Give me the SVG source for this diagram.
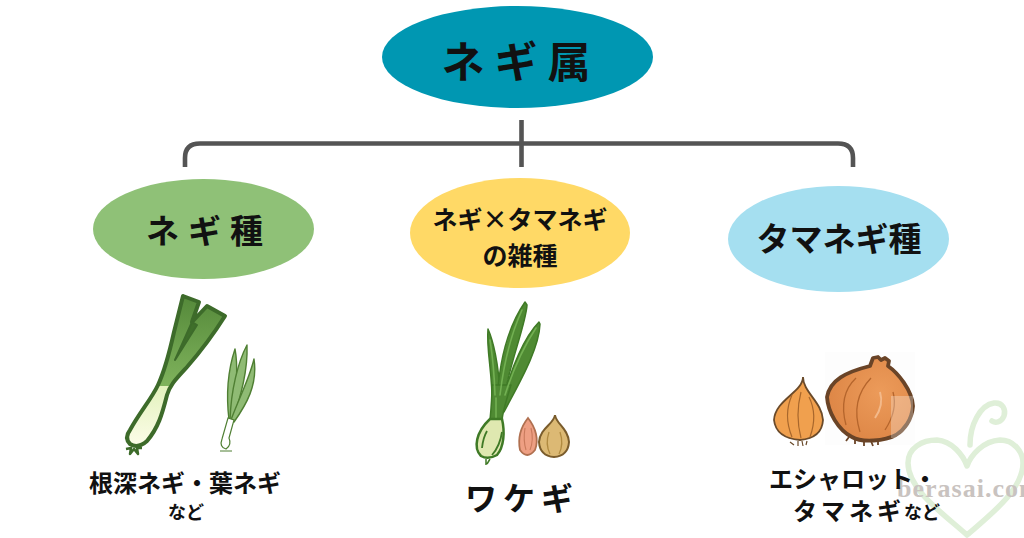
<svg xmlns="http://www.w3.org/2000/svg" width="1024" height="538" viewBox="0 0 1024 538">
<style>
text{font-family:"Noto Sans CJK JP","Noto Sans",sans-serif;fill:#111;font-weight:700;text-anchor:middle}
.c{fill:none;stroke:#545454;stroke-width:4.6}
.lf{fill:#4f8a33;stroke:#3f7a26;stroke-width:1.500;stroke-linejoin:round}
.in{fill:none;stroke:#72b052;stroke-width:1.600;stroke-linecap:round}
.sl{fill:#8fbb74;stroke:#4f7f33;stroke-width:1.400;stroke-linejoin:round}
.wm{fill:none;stroke:#dfefd8;stroke-width:5.500;stroke-linecap:round;stroke-linejoin:round}
</style>
<defs>
<linearGradient id="leek" x1="0" y1="0" x2="0" y2="1"><stop offset="0" stop-color="#55893a"/><stop offset=".6" stop-color="#7fb35c"/><stop offset=".6" stop-color="#e3f2bd"/><stop offset="1" stop-color="#fcfde8"/></linearGradient>
<radialGradient id="onA" cx=".62" cy=".42" r=".7"><stop offset="0" stop-color="#ec9b5a"/><stop offset="1" stop-color="#dc8444"/></radialGradient>
</defs>
<rect width="1024" height="538" fill="#fff"/>
<g id="connectors">
<path class="c" d="M185 167V158Q185 143.500 200 143.500H838Q853 143.500 853 158V167"/>
<path class="c" d="M521.500 120V167"/>
</g>
<g id="node-root"><ellipse cx="517.500" cy="57" rx="135.500" ry="51" fill="#0097b2"/><text x="521" y="78" font-size="43" letter-spacing="10">ネギ属</text></g>
<g id="node-negi"><ellipse cx="203.500" cy="229" rx="110.500" ry="50" fill="#8fc177"/><text x="209" y="243" font-size="33" letter-spacing="9">ネギ種</text></g>
<g id="node-hybrid"><ellipse cx="520" cy="233" rx="110" ry="55" fill="#ffd966"/><text x="520" y="229" font-size="25">ネギ×タマネギ</text><text x="520" y="265" font-size="25">の雑種</text></g>
<g id="node-onion"><ellipse cx="838.500" cy="239" rx="110.500" ry="53" fill="#a5dff0"/><text x="839" y="251" font-size="33">タマネギ種</text></g>
<g id="item-leek">
<path d="M183 296L199 302L192 322L207 306L225 316Q208 343 187 367C175 380 170 385 167 395C162 415 158 428 147 441Q138 449 130 444Q124 438 130 430C140 412 152 398 158 385C165 370 170 350 174 332Z" fill="url(#leek)" stroke="#3d6b2a" stroke-width="4" stroke-linejoin="round"/>
<path d="M192 322L175 360L197 325Z" fill="#3f6f2a" stroke="#3d6b2a" stroke-width="2" stroke-linejoin="round"/>
<path d="M126 449L131 448L130 454L134 449L138 454L137 448L142 448" fill="none" stroke="#3d6b2a" stroke-width="2.500" stroke-linejoin="round"/>
<path class="sl" d="M235 349C228 370 226 395 229 420L232 420C236 395 239 370 235 349Z"/>
<path class="sl" d="M247 345C238 362 231 390 230 420L233 420C241 395 248 370 247 345Z"/>
<path class="sl" d="M254 359C249 380 238 400 231 420L234 422C246 405 258 385 254 359Z"/>
<path d="M228 418L234 420L229 438Q232 445 226 449Q219 447 222 439Z" fill="#fff" stroke="#4f7f33" stroke-width="1.200"/>
<path d="M220 451H232" stroke="#4f7f33" stroke-width="1" fill="none"/>
</g>
<g id="item-wakegi">
<path class="lf" d="M488 329C493 340 499 365 500 395L492 405C493 375 486 350 488 329Z"/>
<path class="lf" d="M525 302C514 318 499 350 497 405L503 405C507 370 526 325 527 305Z"/>
<path class="lf" d="M539 322C526 335 511 365 500 410L504 412C518 385 539 350 540 324Z"/>
<path class="lf" d="M492 385L511 385C507 398 503 410 502 420L490 420C491 410 492 398 492 385Z"/>
<path class="in" d="M490 340Q494 365 495 395M522 310Q506 345 500 395M536 328Q518 355 505 395M496 398V418"/>
<path d="M490 419L502 419C505 432 504 447 497 455Q488 460 481 456C473 448 476 432 490 419Z" fill="#dfe8b0" stroke="#3f7a26" stroke-width="2.500"/>
<path d="M482 448Q483 438 487 431M492 455Q500 446 502 432" fill="none" stroke="#3f7a26" stroke-width="1.800"/>
<path d="M486 459V465M490 459L487 464" stroke="#3f7a26" stroke-width="1.500"/>
<path d="M528 418C520 428 518 440 520 450Q527 460 535 450C539 440 536 428 528 418Z" fill="#ee9f83" stroke="#b07050" stroke-width="1.800"/>
<path d="M525 428Q523 440 526 450M531 428Q534 440 530 450" fill="none" stroke="#c97a5c" stroke-width="1.100"/>
<path d="M555 415C554 424 540 428 539 442Q540 456 554 457Q568 456 569 442C568 428 556 424 555 415Z" fill="#dcb974" stroke="#7a5c2c" stroke-width="2"/>
<path d="M549 432Q545 444 550 454M560 432Q564 444 559 454" fill="none" stroke="#b08a40" stroke-width="1.300"/>
</g>
<g id="item-onions">
<rect x="825" y="352" width="90" height="93" fill="#fdfdfd"/>
<path d="M803 377C803 392 775 400 774 420Q776 438 800 440Q822 438 823 420C822 402 803 392 803 377Z" fill="#f0a04e" stroke="#6a4a2a" stroke-width="1.800"/>
<path d="M792 395Q783 415 792 437M809 397Q818 415 810 437M801 392Q795 415 801 438" fill="none" stroke="#a8672c" stroke-width="1.200"/>
<path d="M790 442L794 445M798 441V446M802 441L803 446M807 441L806 445" stroke="#6a4a2a" stroke-width="1.200"/>
<path d="M873 358L878 357L881 360L885 358L889 361L888 366C898 373 912 390 913 406C912 420 904 430 896 435C885 441 862 443 852 437C838 430 828 412 827 397C830 380 846 372 870 366Z" fill="url(#onA)" stroke="#6a4427" stroke-width="3.800" stroke-linejoin="round"/>
<path d="M856 378Q838 395 846 425M871 378Q850 400 860 432M893 392Q898 410 885 430" fill="none" stroke="#b5652c" stroke-width="1.300"/>
<path d="M880 392Q884 405 875 418" fill="none" stroke="#f3b98a" stroke-width="2"/>
<path d="M849 437L846 441M855 439V444M864 441V446M871 441L873 446M878 441V445" stroke="#6a4427" stroke-width="1.800"/>
<rect x="891" y="396" width="22" height="42" fill="#fff" opacity=".28"/>
</g>
<g id="watermark">
<path class="wm" d="M967 535C945 515 908 490 908 463C908 448 922 440 937 440C952 441 963 455 967 466C971 455 983 441 1000 440C1014 440 1023 452 1023 463C1023 490 990 515 967 535"/>
<path class="wm" d="M970 445C970 425 980 405 994 403C1003 402 1006 410 1004 416C1001 423 995 423 992 421"/>
<text x="897" y="497" font-size="26" font-weight="700" style="font-family:'Liberation Serif',serif;text-anchor:start;fill:#c9c3c0" letter-spacing="1">berasai.com</text>
</g>
<g id="labels">
<text x="185" y="492" font-size="24">根深ネギ・葉ネギ</text>
<text x="186" y="519" font-size="18">など</text>
<text x="522" y="510" font-size="32" letter-spacing="6">ワケギ</text>
<text x="853" y="488" font-size="24">エシャロット・</text>
<text x="849" y="520" font-size="24" letter-spacing="4">タマネギ</text>
<text x="922" y="519" font-size="18" font-weight="500">など</text>
</g>
</svg>
